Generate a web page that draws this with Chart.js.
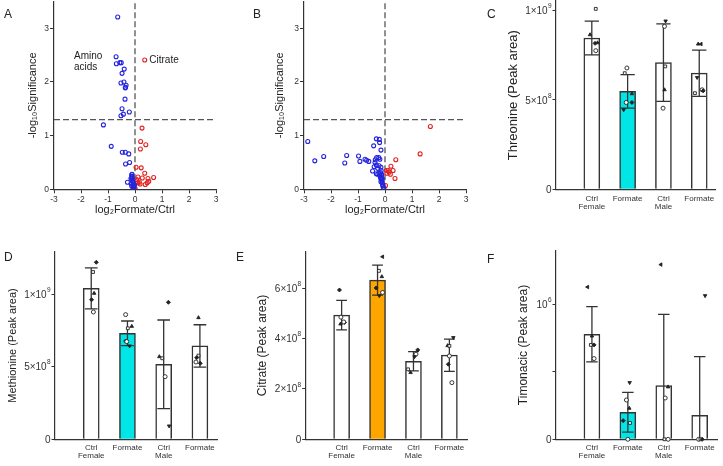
<!DOCTYPE html>
<html>
<head>
<meta charset="utf-8">
<script src="https://cdn.jsdelivr.net/npm/chart.js@4.4.1/dist/chart.umd.min.js"></script>
<style>
  body { margin: 0; background: #fff; width: 723px; height: 466px; position: relative; overflow: hidden;
         font-family: "Liberation Sans", Arial, sans-serif; }
  canvas { position: absolute; }
  .tag { position: absolute; font-size: 12px; line-height: 12px; color: #222; }
</style>
</head>
<body>
<canvas id="cA" width="230" height="217" style="left:0;top:0"></canvas>
<canvas id="cB" width="230" height="217" style="left:250px;top:0"></canvas>
<canvas id="cC" width="243" height="217" style="left:480px;top:0"></canvas>
<canvas id="cD" width="235" height="236" style="left:0;top:230px"></canvas>
<canvas id="cE" width="235" height="236" style="left:240px;top:230px"></canvas>
<canvas id="cF" width="243" height="236" style="left:480px;top:230px"></canvas>
<div class="tag" style="left:4px;top:8px">A</div>
<div class="tag" style="left:253px;top:8px">B</div>
<div class="tag" style="left:487px;top:8px">C</div>
<div class="tag" style="left:4px;top:251px">D</div>
<div class="tag" style="left:236px;top:251px">E</div>
<div class="tag" style="left:487px;top:253px">F</div>
<script>
// volcano plots: log2 fold change vs -log10 p
const aDownX = [-0.64, -0.70, -0.69, -0.56, -0.51, -0.40, -0.48, -0.52, -0.41, -0.33, -0.35, -0.36, -0.37, -0.48,
  -0.21, -0.43, -0.52, -1.17, -0.88, -0.47, -0.36, -0.23, -0.35, -0.20, -0.12, -0.12, -0.12, -0.15, -0.28, -0.09,
  -0.06, -0.12, -0.05, -0.04, -0.03, -0.10, -0.08, -0.14, -0.02, -0.07, -0.11];
const aDownY = [3.21, 2.47, 2.34, 2.36, 2.36, 2.24, 2.16, 1.98, 2.00, 1.94, 1.90, 1.89, 1.68, 1.50,
  1.44, 1.40, 1.37, 1.20, 0.80, 0.69, 0.69, 0.66, 0.47, 0.50, 0.27, 0.24, 0.19, 0.20, 0.13, 0.14,
  0.12, 0.06, 0.06, 0.05, 0.02, 0.22, 0.17, 0.10, 0.08, 0.03, 0.28];
const aUpX = [0.36, 0.26, 0.21, 0.40, 0.20, 0.04, 0.23, 0.36, 0.69, 0.48, 0.11, 0.27, 0.51, 0.16, 0.04, 0.10,
  0.38, 0.19, 0.01, 0.06, 0.45];
const aUpY = [2.41, 1.14, 0.89, 0.83, 0.75, 0.41, 0.40, 0.30, 0.22, 0.20, 0.23, 0.21, 0.15, 0.13, 0.14, 0.12,
  0.09, 0.10, 0.01, 0.18, 0.12];

const bDownX = [-2.86, -2.60, -2.27, -1.42, -1.49, -0.98, -0.93, -0.74, -0.68, -0.60, -0.32, -0.21, -0.20, -0.42,
  -0.15, -0.31, -0.23, -0.36, -0.19, -0.37, -0.32, -0.40, -0.22, -0.27, -0.15, -0.14, -0.46, -0.32, -0.27, -0.22,
  -0.17, -0.14, -0.13, -0.12, -0.11, -0.10, -0.09, -0.08, -0.06, -0.04, -0.18, -0.16, -0.12, -0.10, -0.15];
const bDownY = [0.89, 0.53, 0.61, 0.63, 0.49, 0.62, 0.52, 0.56, 0.54, 0.52, 0.94, 0.93, 0.87, 0.81,
  0.73, 0.59, 0.59, 0.55, 0.56, 0.50, 0.45, 0.42, 0.44, 0.39, 0.41, 0.35, 0.34, 0.29, 0.28, 0.30,
  0.31, 0.26, 0.22, 0.18, 0.15, 0.12, 0.09, 0.06, 0.03, 0.01, 0.24, 0.20, 0.28, 0.20, 0.14];
const bUpX = [1.68, 1.30, 0.40, 0.22, 0.30, 0.05, 0.12, 0.07, 0.20, 0.37, 0.02, 0.15];
const bUpY = [1.17, 0.66, 0.55, 0.43, 0.35, 0.35, 0.35, 0.30, 0.28, 0.20, 0.07, 0.32];

const pCut = 1.3;
const volcanoTicksX = [-3, -2, -1, 0, 1, 2, 3];
const volcanoTicksY = [0, 1, 2, 3];

// bar panels
const groups = ['Ctrl\nFemale', 'Formate', 'Ctrl\nMale', 'Formate'];

const thrMean = [8.47e8, 5.48e8, 7.09e8, 6.50e8];
const thrSd = [0.945e8, 0.935e8, 2.165e8, 1.295e8];
const thrPts = [[10.1e8, 8.65e8, 8.17e8, 8.2e8, 7.76e8], [6.79e8, 6.5e8, 5.35e8, 4.86e8, 4.86e8, 4.45e8],
  [9.42e8, 9.12e8, 6.88e8, 5.57e8, 4.54e8], [8.13e8, 8.13e8, 6.26e8, 5.38e8, 5.57e8, 5.51e8]];
const thrJit = [[0.11, -0.05, 0.09, 0.16, 0.11], [-0.02, -0.08, 0.12, -0.04, 0.12, -0.11],
  [0.06, 0.03, 0.05, 0.03, -0.01], [-0.03, 0.05, -0.06, -0.12, 0.08, 0.11]];
const thrTicks = [0, 5e8, 1e9];
const thrTickLabels = ['0', '5×10^8', '1×10^9'];

const metMean = [10.41e8, 7.31e8, 5.17e8, 6.44e8];
const metSd = [1.415e8, 0.85e8, 3.06e8, 1.46e8];
const metPts = [[12.21e8, 11.54e8, 10.07e8, 9.63e8, 8.78e8], [8.60e8, 7.66e8, 7.79e8, 6.78e8, 6.74e8, 6.44e8],
  [9.45e8, 5.70e8, 5.59e8, 4.32e8, 0.92e8], [8.39e8, 5.77e8, 5.63e8, 5.33e8, 5.24e8]];
const metJit = [[0.14, 0.05, 0.08, 0.01, 0.06], [-0.05, 0.01, 0.12, -0.05, -0.02, 0.06],
  [0.13, -0.12, -0.04, 0.04, 0.15], [-0.04, -0.04, -0.09, -0.11, 0.01]];
const metTicks = [0, 5e8, 1e9];
const metTickLabels = ['0', '5×10^8', '1×10^9'];

const citMean = [4.93e8, 6.32e8, 3.10e8, 3.34e8];
const citSd = [0.585e8, 0.595e8, 0.38e8, 0.64e8];
const citPts = [[5.93e8, 4.85e8, 4.58e8, 4.64e8, 4.66e8], [7.25e8, 6.69e8, 6.46e8, 6.01e8, 5.83e8, 5.70e8],
  [3.55e8, 3.38e8, 3.28e8, 2.78e8, 2.65e8], [4.04e8, 3.72e8, 3.71e8, 3.31e8, 2.98e8, 2.25e8]];
const citJit = [[-0.06, -0.02, -0.03, 0.08, 0.06], [0.14, 0.04, 0.12, -0.04, 0.14, 0.05],
  [0.12, 0.07, 0.03, -0.15, -0.08], [0.11, -0.05, 0, 0, -0.03, 0.07]];
const citTicks = [0, 2e8, 4e8, 6e8];
const citTickLabels = ['0', '2×10^8', '4×10^8', '6×10^8'];

const timMean = [7.78e5, 2.00e5, 3.98e5, 1.78e5];
const timSd = [2.05e5, 1.47e5, 5.28e5, 4.34e5];
const timPts = [[11.28e5, 7.65e5, 6.99e5, 6.99e5, 5.98e5], [4.20e5, 2.91e5, 2.30e5, 1.38e5, 1.21e5, 0],
  [12.94e5, 3.88e5, 3.06e5, 0, 0], [10.64e5, 0, 0, 0]];
const timJit = [[-0.12, 0, -0.03, 0.06, 0.06], [0.05, -0.04, 0.04, -0.13, 0.06, 0],
  [-0.08, 0.12, 0.04, 0.02, 0.12], [0.15, -0.03, 0.02, 0.07]];
const timTicks = [0, 5e5, 1e6];
const timTickLabels = ['0', '', '10^6'];

// marker per point: o circle, s square, t triangle, v down, d diamond, l left
const thrMarks = ['stdto', 'ostodv', 'vosto', 'tlvsod'];
const metMarks = ['dstdo', 'ostdov', 'dtsov', 'tsdod'];
const citMarks = ['dotdo', 'lstdov', 'dovst', 'vtsodo'];
const timMarks = ['ltsdo', 'votdso', 'ltoso', 'vosd'];

const FONT = '"Liberation Sans", Arial, sans-serif';
Chart.defaults.font.family = FONT;
Chart.defaults.color = '#333';

const INK = '#333';
const markStyle = {
  o: ['circle', 0, false], s: ['rect', 0, false], t: ['triangle', 0, true],
  v: ['triangle', 180, true], d: ['rectRot', 0, true], l: ['triangle', -90, true]
};

const notes = {
  id: 'notes',
  afterDatasetsDraw(chart, args, opts) {
    const { ctx, scales: { x, y } } = chart;
    (opts.items || []).forEach(n => {
      ctx.save();
      ctx.font = '10px ' + FONT;
      ctx.fillStyle = '#222';
      ctx.textBaseline = 'middle';
      ctx.fillText(n.text, x.getPixelForValue(n.x), y.getPixelForValue(n.y));
      ctx.restore();
    });
  }
};

// y tick labels with a real superscript exponent ("5×10^8")
const expTicks = {
  id: 'expTicks',
  afterDraw(chart, args, opts) {
    const { ctx } = chart;
    const y = chart.scales.y;
    const size = opts.size;
    opts.ticks.forEach((v, i) => {
      const [base, exp] = opts.labels[i].split('^');
      const py = y.getPixelForValue(v);
      let xr = y.right - 4.5;
      ctx.save();
      ctx.fillStyle = INK;
      ctx.textAlign = 'right';
      ctx.textBaseline = 'middle';
      if (exp) {
        ctx.font = (size * 0.65) + 'px ' + FONT;
        ctx.fillText(exp, xr, py - size * 0.42);
        xr -= ctx.measureText(exp).width + 0.2;
      }
      ctx.font = size + 'px ' + FONT;
      ctx.fillText(base, xr, py + 0.8);
      ctx.restore();
    });
  }
};

function axisBase(fit) {
  return {
    afterFit: s => {
      if (fit.width !== undefined) s.width = fit.width;
      if (fit.height !== undefined) s.height = fit.height;
      s.paddingTop = 0; s.paddingBottom = 0; s.paddingLeft = 0; s.paddingRight = 0;
    },
    border: { display: true, color: INK, width: 1.2 },
  };
}

function toPts(xs, ys) {
  return xs.map((x, i) => ({ x, y: ys[i] }));
}

function volcano(id, lay, down, up, items) {
  new Chart(document.getElementById(id), {
    type: 'scatter',
    data: {
      datasets: [
        { data: toPts(down[0], down[1]), borderColor: '#2424dd', backgroundColor: 'rgba(0,0,0,0)',
          pointRadius: 2, borderWidth: 1.1 },
        { data: toPts(up[0], up[1]), borderColor: '#e02424', backgroundColor: 'rgba(0,0,0,0)',
          pointRadius: 2, borderWidth: 1.1 },
        { type: 'line', data: [{ x: -3, y: pCut }, { x: 3, y: pCut }], borderColor: '#555',
          borderWidth: 1.3, borderDash: [6, 3], pointRadius: 0 },
        { type: 'line', data: [{ x: 0, y: 0 }, { x: 0, y: 3.5 }], borderColor: '#555',
          borderWidth: 1.3, borderDash: [6, 3], pointRadius: 0 },
      ]
    },
    plugins: [notes],
    options: {
      responsive: false, animation: false,
      layout: { autoPadding: false, padding: { left: lay.pl, top: lay.pt, right: lay.pr, bottom: 0 } },
      plugins: { legend: { display: false }, tooltip: { enabled: false }, notes: { items } },
      scales: {
        x: {
          ...axisBase({ height: lay.xh }),
          type: 'linear', min: -3, max: 3,
          afterBuildTicks: s => { s.ticks = volcanoTicksX.map(value => ({ value })); },
          ticks: { font: { size: 8.5, lineHeight: 1.2 }, padding: 1, color: INK, maxRotation: 0, autoSkip: false,
                   callback: v => String(v) },
          grid: { drawOnChartArea: false, tickLength: 4, color: INK },
          title: { display: true, text: 'log₂Formate/Ctrl', font: { size: 11 }, color: '#222', padding: 0 }
        },
        y: {
          ...axisBase({ width: lay.yw }),
          type: 'linear', min: 0, max: 3.5,
          afterBuildTicks: s => { s.ticks = volcanoTicksY.map(value => ({ value })); },
          ticks: { font: { size: 8.5 }, padding: 1, color: INK, callback: v => String(v) },
          grid: { drawOnChartArea: false, tickLength: 4, color: INK },
          title: { display: true, text: '-log₁₀Significance', font: { size: 11 }, color: '#222', padding: 0 }
        }
      }
    }
  });
}

function barPanel(id, lay, d) {
  const bars = d.mean.map((m, i) => ({ x: i + 1, y: m }));
  const err = [];
  d.mean.forEach((m, i) => {
    const x = i + 1, hi = m + d.sd[i], lo = m - d.sd[i], c = lay.cap;
    err.push({ x: x - c, y: hi }, { x: x + c, y: hi }, { x, y: null },
             { x, y: hi }, { x, y: lo }, { x, y: null },
             { x: x - c, y: lo }, { x: x + c, y: lo }, { x, y: null });
  });
  const dots = [], styles = [], rots = [], fills = [];
  d.pts.forEach((g, i) => g.forEach((v, j) => {
    dots.push({ x: i + 1 + d.jit[i][j], y: v });
    const m = markStyle[d.marks[i][j]];
    styles.push(m[0]); rots.push(m[1]); fills.push(m[2] ? '#222' : '#fff');
  }));

  new Chart(document.getElementById(id), {
    type: 'bar',
    data: {
      datasets: [
        { type: 'scatter', data: dots, pointStyle: styles, rotation: rots, pointBackgroundColor: fills,
          pointBorderColor: '#222', pointRadius: 2, pointBorderWidth: 0.9, clip: false, order: 0 },
        { type: 'line', data: err, borderColor: INK, borderWidth: 1.3, pointRadius: 0, spanGaps: false, order: 1 },
        { type: 'bar', data: bars, backgroundColor: lay.fills, borderColor: INK, borderWidth: 1.5,
          barThickness: 16, order: 2 },
      ]
    },
    plugins: [expTicks],
    options: {
      responsive: false, animation: false,
      layout: { autoPadding: false, padding: { left: lay.pl, top: lay.pt, right: lay.pr, bottom: 0 } },
      plugins: { legend: { display: false }, tooltip: { enabled: false },
                 expTicks: { ticks: d.ticks, labels: d.tickLabels, size: lay.tickSize } },
      scales: {
        x: {
          ...axisBase({ height: lay.xh }),
          type: 'linear', min: 0, max: lay.xmax, offset: false,
          afterBuildTicks: s => { s.ticks = groups.map((g, i) => ({ value: i + 1 })); },
          ticks: { font: { size: 8, lineHeight: 0.97 }, padding: lay.xpad, color: INK, maxRotation: 0,
                   autoSkip: false, callback: v => groups[v - 1].split('\n') },
          grid: { drawOnChartArea: false, drawTicks: false, offset: false }
        },
        y: {
          ...axisBase({ width: lay.yw }),
          type: 'linear', min: 0, max: lay.ymax,
          afterBuildTicks: s => { s.ticks = d.ticks.map(value => ({ value })); },
          ticks: { display: false },
          grid: { drawOnChartArea: false, tickLength: 3.5, color: INK },
          title: { display: true, text: d.title, font: { size: lay.titleSize }, color: '#222', padding: 0 }
        }
      }
    }
  });
}

volcano('cA', { pl: 26.7, yw: 27.3, pt: 1.45, pr: 14, xh: 27.7 }, [aDownX, aDownY], [aUpX, aUpY], [
  { x: -2.26, y: 2.47, text: 'Amino' }, { x: -2.26, y: 2.27, text: 'acids' }, { x: 0.53, y: 2.41, text: 'Citrate' }
]);
volcano('cB', { pl: 22.9, yw: 31.1, pt: 1.45, pr: 14, xh: 27.7 }, [bDownX, bDownY], [bUpX, bUpY], []);

const white = '#ffffff';
barPanel('cC', { pl: 25.5, yw: 50.5, pt: 1, pr: 8, xh: 27.7, ymax: 1.054e9, xmax: 4.44, cap: 0.2, xpad: 5.7,
  tickSize: 10, titleSize: 13, fills: [white, '#00e5e5', white, white] },
  { mean: thrMean, sd: thrSd, pts: thrPts, jit: thrJit, marks: thrMarks, ticks: thrTicks,
    tickLabels: thrTickLabels, title: 'Threonine (Peak area)' });
barPanel('cD', { pl: 6.7, yw: 48.3, pt: 21.7, pr: 17.7, xh: 26.7, ymax: 1.294e9, xmax: 4.48, cap: 0.175, xpad: 5,
  tickSize: 10, titleSize: 11, fills: [white, '#00e5e5', white, white] },
  { mean: metMean, sd: metSd, pts: metPts, jit: metJit, marks: metMarks, ticks: metTicks,
    tickLabels: metTickLabels, title: 'Methionine (Peak area)' });
barPanel('cE', { pl: 15.5, yw: 50.2, pt: 21.7, pr: 7.3, xh: 26.7, ymax: 7.45e8, xmax: 4.51, cap: 0.15, xpad: 5,
  tickSize: 10, titleSize: 12, fills: [white, '#ffa500', white, white] },
  { mean: citMean, sd: citSd, pts: citPts, jit: citJit, marks: citMarks, ticks: citTicks,
    tickLabels: citTickLabels, title: 'Citrate (Peak area)' });
barPanel('cF', { pl: 36.1, yw: 39.9, pt: 20.7, pr: 5.7, xh: 26.7, ymax: 1.397e6, xmax: 4.49, cap: 0.16, xpad: 5,
  tickSize: 10, titleSize: 12, fills: [white, '#00e5e5', white, white] },
  { mean: timMean, sd: timSd, pts: timPts, jit: timJit, marks: timMarks, ticks: timTicks,
    tickLabels: timTickLabels, title: 'Timonacic (Peak area)' });
</script>
</body>
</html>
